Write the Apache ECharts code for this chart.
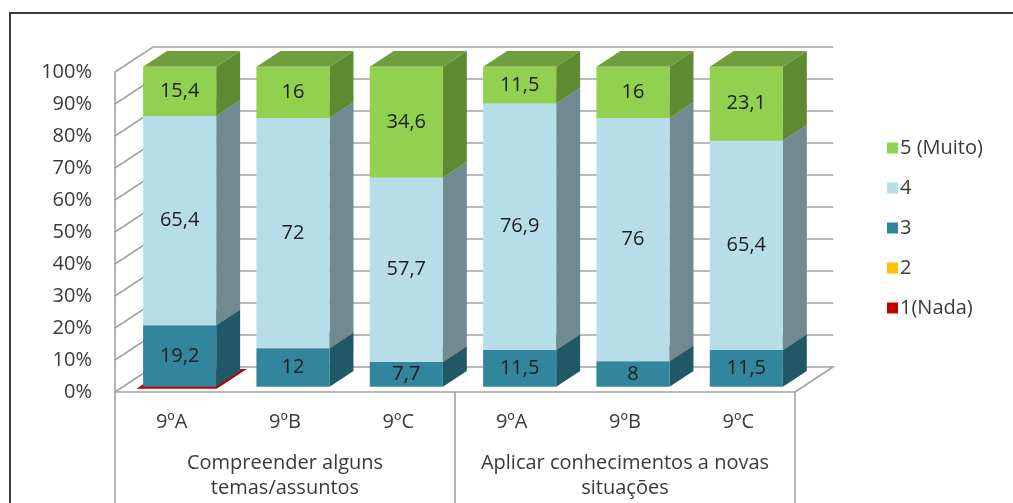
<!DOCTYPE html>
<html>
<head>
<meta charset="utf-8">
<title>Compreender / Aplicar</title>
<script src="https://cdn.jsdelivr.net/npm/echarts@6/dist/echarts.min.js"></script>
<style>
  html, body { margin: 0; padding: 0; background: #ffffff; }
  #chart { width: 1013px; height: 503px; }
</style>
</head>
<body>
<div id="chart"></div>
<script>
// Classes along the category axis and the two question groups beneath them
const categories = ['9ºA', '9ºB', '9ºC', '9ºA', '9ºB', '9ºC'];
const groups = ['Compreender alguns\ntemas/assuntos', 'Aplicar conhecimentos a novas\nsituações'];

// Answer shares per class (%), from the bottom of each stack to the top
const nada   = [0, null, null, null, null, null];        // 1(Nada)
const dois   = [null, null, null, null, null, null];     // 2
const tres   = [19.2, 12, 7.7, 11.5, 8, 11.5];            // 3
const quatro = [65.4, 72, 57.7, 76.9, 76, 65.4];          // 4
const muito  = [15.4, 16, 34.6, 11.5, 16, 23.1];          // 5 (Muito)

// Value-axis ticks (percent)
const yTicks = [0, 10, 20, 30, 40, 50, 60, 70, 80, 90, 100];

const FONT = 'Open Sans';

// 3-D look: depth of the walls, and where each column sits inside that depth
const WALL_DX = 38, WALL_DY = -25;
const BAR_FRONT = 0.21, BAR_DEPTH = 0.63, BAR_WIDTH = 0.645;

const layers = [
  { name: '1(Nada)',   values: nada,   front: '#C00000', side: '#8a0000', top: '#C00000', label: false },
  { name: '2',         values: dois,   front: '#FFC000', side: '#b88a00', top: '#e0a800', label: false },
  { name: '3',         values: tres,   front: '#31859C', side: '#215866', top: '#2a6f82', label: true },
  { name: '4',         values: quatro, front: '#B7DEE8', side: '#718a92', top: '#9cc3cd', label: true },
  { name: '5 (Muito)', values: muito,  front: '#92D050', side: '#5e8a31', top: '#6f9e3c', label: true }
];

// Percent-stack the layers per class
const totals = categories.map((_, i) =>
  layers.reduce((s, l) => s + (l.values[i] == null ? 0 : l.values[i]), 0));
const cum = categories.map(() => 0);
const layerData = layers.map(l => {
  const rows = [];
  l.values.forEach((v, i) => {
    if (v == null) return;
    const start = cum[i] / totals[i] * 100;
    cum[i] += v;
    const end = cum[i] / totals[i] * 100;
    rows.push([i, start, end, v]);
  });
  return rows;
});

const fmt = v => String(v).replace('.', ',');

function renderColumn(layer) {
  return function (params, api) {
    const idx = api.value(0);
    const pBot = api.coord([idx, api.value(1)]);
    const pTop = api.coord([idx, api.value(2)]);
    const w = api.size([1, 0])[0] * BAR_WIDTH;
    const ox = WALL_DX * BAR_FRONT, oy = WALL_DY * BAR_FRONT;
    const dx = WALL_DX * BAR_DEPTH, dy = WALL_DY * BAR_DEPTH;
    const x0 = pBot[0] - w / 2 + ox, x1 = x0 + w;
    const yb = pBot[1] + oy, yt = pTop[1] + oy;
    const children = [];
    if (yb - yt < 0.5) {
      // a zero share still shows as a thin slab on the floor
      children.push({
        type: 'polygon',
        shape: { points: [[x0, yb], [x0 + dx, yb + dy], [x1 + dx, yb + dy], [x1, yb]] },
        style: { fill: layer.top, stroke: layer.front, lineWidth: 4, lineJoin: 'miter' }
      });
      return { type: 'group', children };
    }
    children.push({
      type: 'polygon',
      shape: { points: [[x1, yb], [x1 + dx, yb + dy], [x1 + dx, yt + dy], [x1, yt]] },
      style: { fill: layer.side }
    });
    children.push({
      type: 'polygon',
      shape: { points: [[x0, yt], [x0 + dx, yt + dy], [x1 + dx, yt + dy], [x1, yt]] },
      style: { fill: layer.top }
    });
    children.push({
      type: 'rect',
      shape: { x: x0, y: yt, width: w, height: yb - yt },
      style: { fill: layer.front }
    });
    if (layer.label) {
      children.push({
        type: 'text',
        style: {
          x: (x0 + x1) / 2, y: (yt + yb) / 2,
          text: fmt(api.value(3)),
          fill: '#1e1e1e', font: '20px "' + FONT + '"',
          align: 'center', verticalAlign: 'middle'
        }
      });
    }
    return { type: 'group', children };
  };
}

// Back wall grid lines plus the matching diagonals on the side wall and floor
function renderWalls(params, api) {
  const cs = params.coordSys;
  const v = api.value(0);
  const y = api.coord([0, v])[1];
  const xl = cs.x, xr = cs.x + cs.width;
  const pts = [[xl, y], [xl + WALL_DX, y + WALL_DY], [xr + WALL_DX, y + WALL_DY]];
  if (v === 0) pts.push([xr, y]);
  return {
    type: 'polyline',
    shape: { points: pts },
    style: { stroke: '#a3a3a3', lineWidth: 1.6, fill: null }
  };
}

const series = [{
  type: 'custom',
  name: 'grid',
  renderItem: renderWalls,
  data: yTicks.map(t => [t]),
  encode: { y: 0 },
  clip: false,
  silent: true,
  z: 1
}].concat(layers.map((l, k) => ({
  type: 'custom',
  name: l.name,
  renderItem: renderColumn(l),
  data: layerData[k],
  encode: { x: 0, y: [1, 2] },
  itemStyle: { color: l.front },
  clip: false,
  z: 2
})));

const chart = echarts.init(document.getElementById('chart'), null, { renderer: 'canvas' });
chart.setOption({
  animation: false,
  backgroundColor: '#ffffff',
  textStyle: { fontFamily: FONT },
  graphic: [{
    type: 'rect',
    shape: { x: 10, y: 13, width: 1100, height: 600 },
    style: { fill: 'none', stroke: '#3c3c3c', lineWidth: 2 },
    z: 0
  }],
  grid: { left: 115, top: 72, right: 218, bottom: 111 },
  legend: {
    orient: 'vertical',
    left: 882,
    top: 132,
    itemWidth: 11,
    itemHeight: 11,
    itemGap: 18,
    icon: 'rect',
    data: ['5 (Muito)', '4', '3', '2', '1(Nada)'],
    textStyle: { fontSize: 20, lineHeight: 22, color: '#3a3a3a', fontFamily: FONT, padding: [0, 0, 0, -3] }
  },
  xAxis: [{
    type: 'category',
    data: categories,
    axisLine: { show: true, lineStyle: { color: '#a3a3a3', width: 1.6 } },
    axisTick: { show: false },
    axisLabel: { interval: 0, margin: 20, fontSize: 20, color: '#3a3a3a', fontFamily: FONT },
    splitLine: { show: false }
  }, {
    type: 'category',
    data: groups,
    position: 'bottom',
    axisLine: { show: false },
    axisTick: { show: true, interval: 0, length: 115, lineStyle: { color: '#a3a3a3', width: 1.6 } },
    axisLabel: { interval: 0, margin: 59, fontSize: 20, lineHeight: 25, color: '#3a3a3a', fontFamily: FONT },
    splitLine: { show: false }
  }],
  yAxis: {
    type: 'value',
    min: 0,
    max: 100,
    interval: 10,
    axisLine: { show: true, lineStyle: { color: '#a3a3a3', width: 1.6 } },
    axisTick: { show: false },
    splitLine: { show: false },
    axisLabel: { formatter: '{value}%', margin: 23, fontSize: 20, color: '#3a3a3a', fontFamily: FONT, padding: [7, 0, 0, 0] }
  },
  series: series
});
</script>
</body>
</html>
